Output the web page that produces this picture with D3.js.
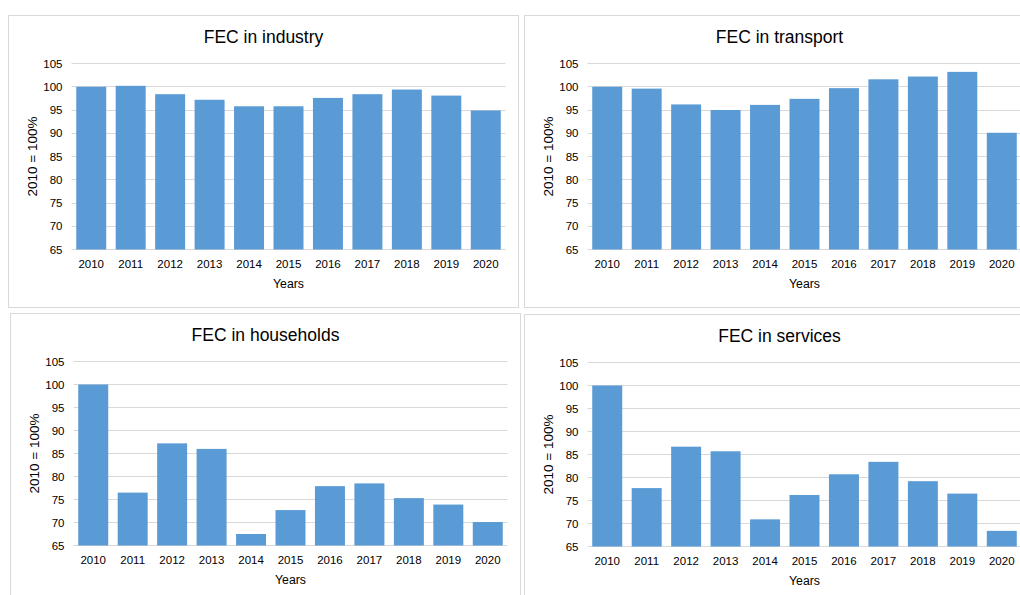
<!DOCTYPE html>
<html>
  <head>
  <title>FEC indices</title>
  <script src="https://cdn.jsdelivr.net/npm/d3@7"></script>
  <style type="text/css">
    body { margin: 0; background: #fff; overflow: hidden; }
    text { font-family: "Liberation Sans", Arial, sans-serif; fill: #000; }
  </style>
  </head>
  <body>
  </body>
  <script type="text/javascript">
    //Data (2010 = 100%)
    var years = ["2010","2011","2012","2013","2014","2015","2016","2017","2018","2019","2020"];
    var yTicks = [65, 70, 75, 80, 85, 90, 95, 100, 105];
    var industry   = [100, 100.2, 98.4, 97.2, 95.8, 95.8, 97.6, 98.4, 99.4, 98.1, 94.9];
    var transport  = [100, 99.6, 96.2, 95.0, 96.1, 97.4, 99.7, 101.6, 102.2, 103.2, 90.1];
    var households = [100, 76.5, 87.2, 86.0, 67.5, 72.7, 77.9, 78.5, 75.3, 73.9, 70.1];
    var services   = [100, 77.7, 86.7, 85.7, 70.9, 76.2, 80.7, 83.4, 79.2, 76.5, 68.4];

    var w = 1020;
    var h = 595;

    var panels = [
      {title: "FEC in industry",   values: industry,   x: 8.5,  y: 15.5,  ph: 186},
      {title: "FEC in transport",  values: transport,  x: 524.5, y: 15.5, ph: 186},
      {title: "FEC in households", values: households, x: 10.5, y: 313.5, ph: 184},
      {title: "FEC in services",   values: services,   x: 524.5, y: 314.5, ph: 184}
    ];

    var pw = 510;      //panel width
    var pH = 292;      //panel height
    var plotL = 63, plotT = 48, plotW = 434;

    var svg = d3.select("body")
          .append("svg")
          .attr("width", w)
          .attr("height", h);

    panels.forEach(function(p) {
      var g = svg.append("g")
        .attr("transform", "translate(" + p.x + "," + p.y + ")");

      g.append("rect")
        .attr("width", pw)
        .attr("height", pH)
        .attr("fill", "#fff")
        .attr("stroke", "#d9d9d9")
        .attr("stroke-width", 1);

      var x = d3.scaleBand()
        .domain(years)
        .range([plotL, plotL + plotW])
        .paddingInner(0.24)
        .paddingOuter(0.12);

      var y = d3.scaleLinear()
        .domain([65, 105])
        .range([plotT + p.ph, plotT]);

      //gridlines
      g.selectAll("line.grid")
        .data(yTicks)
        .enter()
        .append("line")
        .attr("class", "grid")
        .attr("x1", plotL)
        .attr("x2", plotL + plotW)
        .attr("y1", function(d) { return Math.round(y(d)); })
        .attr("y2", function(d) { return Math.round(y(d)); })
        .attr("stroke", "#d9d9d9")
        .attr("stroke-width", 1);

      //bars
      g.selectAll("rect.bar")
        .data(p.values)
        .enter()
        .append("rect")
        .attr("class", "bar")
        .attr("fill", "#5b9bd5")
        .attr("x", function(d, i) { return x(years[i]); })
        .attr("width", x.bandwidth())
        .attr("y", function(d) { return y(d); })
        .attr("height", function(d) { return y(65) - y(d); });

      //y axis labels
      var yAxis = d3.axisLeft(y).tickValues(yTicks).tickSize(0).tickPadding(9);
      var ya = g.append("g")
        .attr("transform", "translate(" + plotL + ",0)")
        .call(yAxis);
      ya.select(".domain").remove();
      ya.selectAll("text")
        .style("font-size", "11.5px")
        .attr("fill", "#000");

      //x axis labels
      var xAxis = d3.axisBottom(x).tickSize(0).tickPadding(10);
      var xa = g.append("g")
        .attr("transform", "translate(0," + (plotT + p.ph) + ")")
        .call(xAxis);
      xa.select(".domain").remove();
      xa.selectAll("text")
        .style("font-size", "11.5px")
        .attr("fill", "#000");

      //titles
      g.append("text")
        .attr("x", pw / 2)
        .attr("y", 27)
        .attr("text-anchor", "middle")
        .style("font-size", "17.5px")
        .text(p.title);

      g.append("text")
        .attr("x", plotL + plotW / 2)
        .attr("y", plotT + p.ph + 38)
        .attr("text-anchor", "middle")
        .style("font-size", "12.3px")
        .text("Years");

      g.append("text")
        .attr("transform", "translate(" + 28 + "," + (plotT + p.ph / 2) + ") rotate(-90)")
        .attr("text-anchor", "middle")
        .style("font-size", "13.5px")
        .text("2010 = 100%");
    });
  </script>
</html>
